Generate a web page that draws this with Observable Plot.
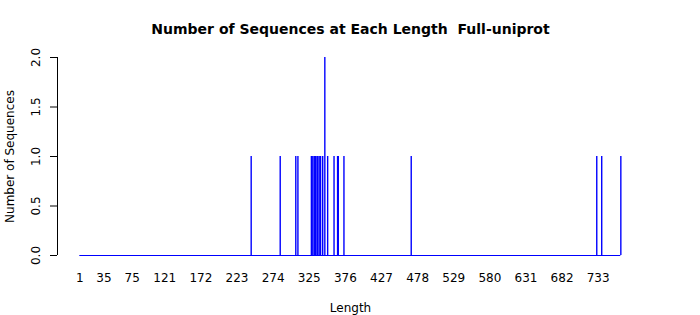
<!DOCTYPE html>
<html>
<head>
<meta charset="utf-8">
<script src="https://cdn.jsdelivr.net/npm/d3@7"></script>
<script src="https://cdn.jsdelivr.net/npm/@observablehq/plot@0.6"></script>
<style>
  html, body { margin: 0; padding: 0; background: #fff; }
  svg { display: block; }
</style>
</head>
<body>
<div id="chart"></div>
<script>
const titleText = "Number of Sequences at Each Length  Full-uniprot";
const xLabel = "Length";
const yLabel = "Number of Sequences";
const lengths = [243, 284, 306, 309, 328, 330, 332, 333, 334, 336, 337, 339, 341, 344, 347, 351, 360, 365, 366, 374, 469, 731, 738, 765];
const counts  = [1,   1,   1,   1,   1,   1,   1,   1,   1,   1,   1,   1,   1,   1,   2,   1,   1,   1,   1,   1,   1,   1,   1,   1];
const lengthRange = [1, 765];
const xTicks = [1, 35, 75, 121, 172, 223, 274, 325, 376, 427, 478, 529, 580, 631, 682, 733];
const yTicks = [0, 0.5, 1, 1.5, 2];

const data = lengths.map((l, i) => ({length: l, count: counts[i]}));
const font = "DejaVu Sans, sans-serif";

const chart = Plot.plot({
  width: 700,
  height: 315,
  marginLeft: 57,
  marginRight: 57,
  marginTop: 57,
  marginBottom: 60,
  style: {fontFamily: font, fontSize: "12px", color: "black", background: "white"},
  x: {domain: [-30.5, 797], axis: null},
  y: {domain: [0, 2], axis: null},
  marks: [
    Plot.ruleY([0], {x1: lengthRange[0], x2: lengthRange[1], stroke: "#0000ff", strokeWidth: 1}),
    Plot.ruleX(data, {x: "length", y1: 0, y2: "count", stroke: "#0000ff", strokeWidth: 1.4}),
    Plot.axisY({ticks: yTicks, tickSize: 7, tickFormat: () => "", label: null, stroke: "black"}),
    Plot.ruleX([-30.5], {y1: yTicks[0], y2: yTicks[yTicks.length - 1], stroke: "black"}),
    Plot.text(yTicks, {y: d => d, text: d => d3.format(".1f")(d), frameAnchor: "left", rotate: -90, dx: -21, textAnchor: "middle", lineAnchor: "middle", fontSize: 12, fill: "black"}),
    Plot.text(xTicks, {x: d => d, text: d => String(d), frameAnchor: "bottom", dy: 23, lineAnchor: "middle", fontSize: 12, fill: "black"}),
    Plot.text([xLabel], {frameAnchor: "bottom", dy: 53, lineAnchor: "middle", fontSize: 12, fill: "black"}),
    Plot.text([yLabel], {frameAnchor: "left", rotate: -90, dx: -47, textAnchor: "middle", lineAnchor: "middle", fontSize: 12, fill: "black"}),
    Plot.text([titleText], {frameAnchor: "top", dy: -28, lineAnchor: "middle", fontSize: 14, fontWeight: "bold", fill: "black"})
  ]
});
document.getElementById("chart").appendChild(chart);
</script>
</body>
</html>
